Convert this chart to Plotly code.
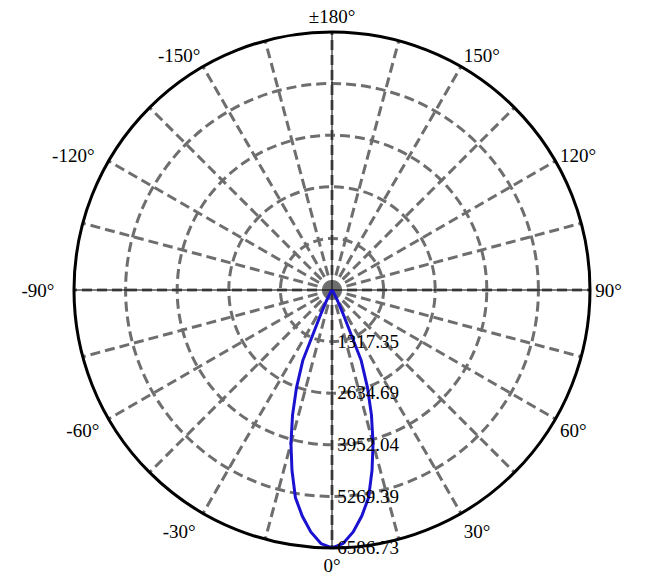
import plotly.graph_objects as go

# beam angle (deg) and luminous intensity (cd)
theta_deg = [-180, -120, -90, -60, -45, -40, -35, -30, -27.5, -25, -22.5, -20,
             -17.5, -15, -12.5, -10, -7.5, -5, -2.5, 0, 2.5, 5, 7.5, 10, 12.5,
             15, 17.5, 20, 22.5, 25, 27.5, 30, 35, 40, 45, 60, 90, 120, 180]
intensity = [0, 0, 0, 0, 5, 10, 40, 120, 280, 650, 1950, 2650,
             3350, 4050, 4720, 5380, 5820, 6200, 6480, 6586.73, 6480, 6200, 5820, 5380, 4720,
             4050, 3350, 2650, 1950, 650, 280, 120, 40, 10, 5, 0, 0, 0, 0]

r_ticks = [1317.35, 2634.69, 3952.04, 5269.39, 6586.73]
r_labels = ["1317.35", "2634.69", "3952.04", "5269.39", "6586.73"]

ang_ticks = [0, 15, 30, 45, 60, 75, 90, 105, 120, 135, 150, 165,
             180, 195, 210, 225, 240, 255, 270, 285, 300, 315, 330, 345]
ang_labels = ["0°", "", "30°", "", "60°", "", "90°", "", "120°", "", "150°", "",
              "±180°", "", "-150°", "", "-120°", "", "-90°", "", "-60°", "", "-30°", ""]

nb = "\u00a0"
# left-hand labels sit a little further from the rim in the reference
pad_after = {"-120°": 2, "-90°": 3, "-60°": 1, "-30°": 1}
ang_text = [t + nb * pad_after.get(t, 0) for t in ang_labels]
r_text = [nb + t for t in r_labels]

grid_col = "#6e6e6e"
font_serif = "Liberation Serif, Times New Roman, serif"
r_max = r_ticks[-1]

fig = go.Figure()
# thin black cross through the centre
for a in (0, 90):
    fig.add_trace(go.Scatterpolar(
        r=[r_max, r_max], theta=[a, a + 180], mode="lines",
        line=dict(color="black", width=1),
        showlegend=False, hoverinfo="skip",
    ))
fig.add_trace(go.Scatterpolar(
    r=intensity, theta=theta_deg, mode="lines",
    line=dict(color="#1a12d0", width=3),
    showlegend=False, hoverinfo="skip",
))

fig.update_layout(
    width=658, height=585,
    margin=dict(l=66, r=76, t=24, b=45),
    paper_bgcolor="white",
    font=dict(family=font_serif, size=19, color="black"),
    polar=dict(
        bgcolor="white",
        angularaxis=dict(
            rotation=-90, direction="counterclockwise",
            tickmode="array", tickvals=ang_ticks, ticktext=ang_text,
            showline=True, linecolor="black", linewidth=3,
            showgrid=True, gridcolor=grid_col, gridwidth=3, griddash="10px,5px",
            ticks="", tickfont=dict(family=font_serif, size=19),
        ),
        radialaxis=dict(
            range=[0, r_max], angle=-90, side="counterclockwise",
            tickmode="array", tickvals=r_ticks, ticktext=r_text,
            showline=False, ticks="",
            showgrid=True, gridcolor=grid_col, gridwidth=3, griddash="10px,5px",
            tickangle=-90, tickfont=dict(family=font_serif, size=19),
        ),
    ),
)

fig.write_html("out.html")
